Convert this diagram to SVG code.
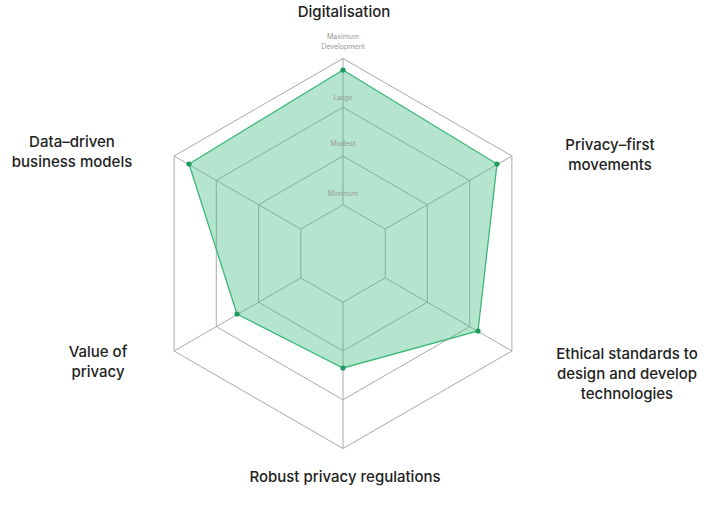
<svg xmlns="http://www.w3.org/2000/svg" width="720" height="512" viewBox="0 0 720 512">
<style>
.lbl{font-family:Inter,"Open Sans",sans-serif;font-size:15px;font-weight:500;fill:#222;text-anchor:middle}
.sc{font-family:Inter,"Open Sans",sans-serif;font-size:7px;fill:#999;text-anchor:middle}
.ring{fill:none;stroke:#aaa;stroke-width:1}
.sp{stroke:#aaa;stroke-width:1}
.dot{fill:#1f9a5f}
</style>
<rect width="720" height="512" fill="#fff"/>
<g id="grid">
<polygon class="ring" points="343,58.5 511.9,156 511.9,351 343,448.5 174.1,351 174.1,156"/>
<polygon class="ring" points="343,107.25 469.7,180.4 469.7,326.6 343,399.75 216.3,326.6 216.3,180.4"/>
<polygon class="ring" points="343,156 427.4,204.75 427.4,302.25 343,351 258.6,302.25 258.6,204.75"/>
<polygon class="ring" points="343,204.75 385.2,229.1 385.2,277.9 343,302.25 300.8,277.9 300.8,229.1"/>
<line class="sp" x1="343" y1="58.5" x2="343" y2="204.75"/>
<line class="sp" x1="511.9" y1="156" x2="385.2" y2="229.1"/>
<line class="sp" x1="511.9" y1="351" x2="385.2" y2="277.9"/>
<line class="sp" x1="343" y1="448.5" x2="343" y2="302.25"/>
<line class="sp" x1="174.1" y1="351" x2="300.8" y2="277.9"/>
<line class="sp" x1="174.1" y1="156" x2="300.8" y2="229.1"/>
</g>
<g id="data">
<polygon points="343,70 497,164 478,331 343,368 237,314 189,164" fill="#3cba7e" fill-opacity="0.38" stroke="#3cb878" stroke-width="1.3"/>
<circle class="dot" cx="343" cy="70" r="2.6"/>
<circle class="dot" cx="497" cy="164" r="2.6"/>
<circle class="dot" cx="478" cy="331" r="2.6"/>
<circle class="dot" cx="343" cy="368" r="2.6"/>
<circle class="dot" cx="237" cy="314" r="2.6"/>
<circle class="dot" cx="189" cy="164" r="2.6"/>
</g>
<g id="scale">
<text class="sc" x="343" y="39">Maximum</text>
<text class="sc" x="343" y="49">Development</text>
<text class="sc" x="343" y="100">Large</text>
<text class="sc" x="343" y="146">Modest</text>
<text class="sc" x="343" y="196">Minimum</text>
</g>
<g id="labels">
<text class="lbl" x="344" y="17">Digitalisation</text>
<text class="lbl" x="72" y="147">Data–driven</text>
<text class="lbl" x="72" y="167">business models</text>
<text class="lbl" x="610" y="150">Privacy–first</text>
<text class="lbl" x="610" y="170">movements</text>
<text class="lbl" x="98" y="357">Value of</text>
<text class="lbl" x="98" y="377">privacy</text>
<text class="lbl" x="627" y="359">Ethical standards to</text>
<text class="lbl" x="627" y="379">design and develop</text>
<text class="lbl" x="627" y="399">technologies</text>
<text class="lbl" x="345" y="482">Robust privacy regulations</text>
</g>
</svg>
